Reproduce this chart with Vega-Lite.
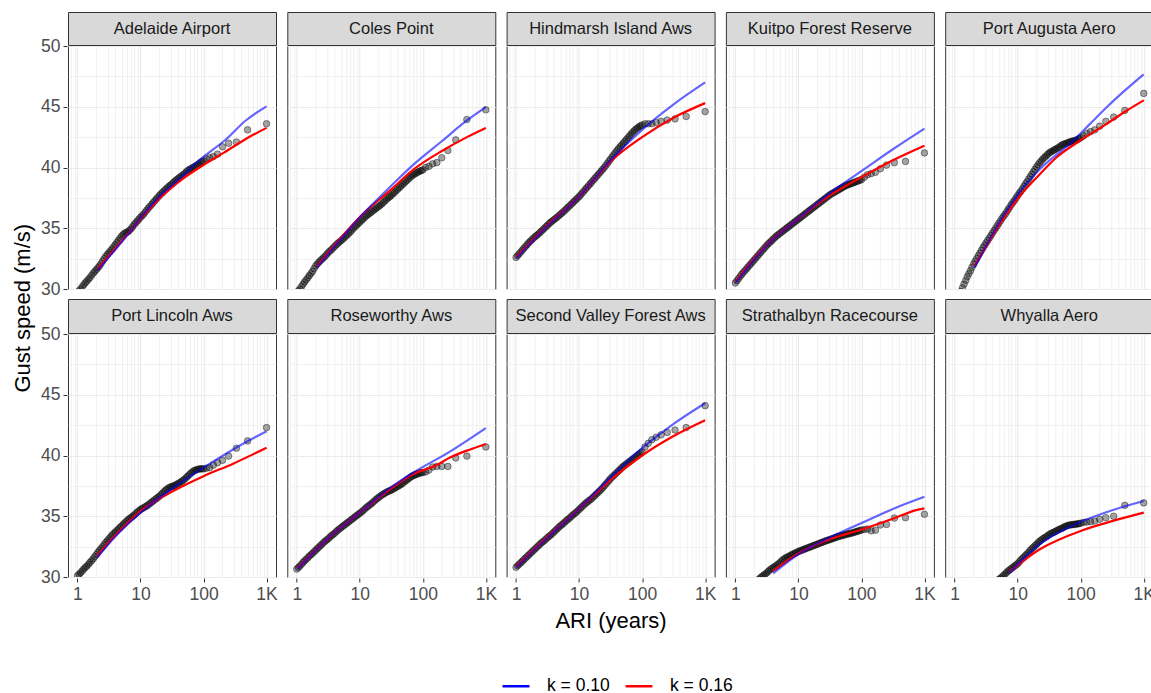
{
"$schema": "https://vega.github.io/schema/vega-lite/v6.json",
"padding": {"left": 11, "top": 11, "right": 0, "bottom": 0},
"background": "white",
"spacing": 0,
"title": {"text": "Gust speed (m/s)", "orient": "left", "anchor": "middle", "fontSize": 22, "fontWeight": "normal", "color": "#000000", "font": "Liberation Sans", "offset": 6, "dx": 45},
"config": {
  "font": "Liberation Sans",
  "view": {"stroke": "#333333", "strokeWidth": 1},
  "axis": {"domain": false, "gridColor": "#ebebeb", "tickColor": "#333333", "tickSize": 4, "labelColor": "#4d4d4d", "labelFontSize": 17.5, "labelPadding": 3, "titleFontSize": 22, "titleFontWeight": "normal", "titleColor": "#000000", "labelFont": "Liberation Sans", "titleFont": "Liberation Sans"}
},
"datasets": {
"st": [{"s":1,"name":"Adelaide Airport"},{"s":2,"name":"Coles Point"},{"s":3,"name":"Hindmarsh Island Aws"},{"s":4,"name":"Kuitpo Forest Reserve"},{"s":5,"name":"Port Augusta Aero"},{"s":6,"name":"Port Lincoln Aws"},{"s":7,"name":"Roseworthy Aws"},{"s":8,"name":"Second Valley Forest Aws"},{"s":9,"name":"Strathalbyn Racecourse"},{"s":10,"name":"Whyalla Aero"}],
"d": [
{"s":1,"a":1,"v":29.7},{"s":1,"a":1.12,"v":30.0},{"s":1,"a":1.26,"v":30.35},{"s":1,"a":1.41,"v":30.65},{"s":1,"a":1.58,"v":30.95},{"s":1,"a":1.78,"v":31.3},{"s":1,"a":2,"v":31.6},{"s":1,"a":2.24,"v":31.9},{"s":1,"a":2.51,"v":32.3},{"s":1,"a":2.82,"v":32.7},{"s":1,"a":3.16,"v":33.0},{"s":1,"a":3.55,"v":33.3},{"s":1,"a":3.98,"v":33.65},{"s":1,"a":4.47,"v":34.0},{"s":1,"a":5.01,"v":34.35},{"s":1,"a":5.62,"v":34.6},{"s":1,"a":6.31,"v":34.7},{"s":1,"a":7.08,"v":34.95},{"s":1,"a":7.94,"v":35.3},{"s":1,"a":8.91,"v":35.6},{"s":1,"a":10,"v":35.9},{"s":1,"a":11.2,"v":36.15},{"s":1,"a":12.6,"v":36.5},{"s":1,"a":14.1,"v":36.8},{"s":1,"a":15.8,"v":37.1},{"s":1,"a":17.8,"v":37.4},{"s":1,"a":20,"v":37.7},{"s":1,"a":22.4,"v":37.95},{"s":1,"a":25.1,"v":38.2},{"s":1,"a":28.2,"v":38.45},{"s":1,"a":31.6,"v":38.65},{"s":1,"a":35.5,"v":38.9},{"s":1,"a":39.8,"v":39.1},{"s":1,"a":44.7,"v":39.3},{"s":1,"a":50.1,"v":39.5},{"s":1,"a":56.2,"v":39.75},{"s":1,"a":63.1,"v":39.9},{"s":1,"a":70.8,"v":40.05},{"s":1,"a":79.4,"v":40.2},{"s":1,"a":89.1,"v":40.4},{"s":1,"a":100,"v":40.55},
{"s":1,"a":1.06,"v":29.85},{"s":1,"a":1.19,"v":30.18},{"s":1,"a":1.33,"v":30.5},{"s":1,"a":1.5,"v":30.8},{"s":1,"a":1.68,"v":31.13},{"s":1,"a":1.88,"v":31.45},{"s":1,"a":2.11,"v":31.75},{"s":1,"a":2.37,"v":32.1},{"s":1,"a":2.66,"v":32.5},{"s":1,"a":2.99,"v":32.85},{"s":1,"a":3.35,"v":33.15},{"s":1,"a":3.76,"v":33.48},{"s":1,"a":4.22,"v":33.83},{"s":1,"a":4.73,"v":34.18},{"s":1,"a":5.31,"v":34.48},{"s":1,"a":5.96,"v":34.65},{"s":1,"a":6.68,"v":34.83},{"s":1,"a":7.5,"v":35.13},{"s":1,"a":8.41,"v":35.45},{"s":1,"a":9.44,"v":35.75},{"s":1,"a":10.6,"v":36.03},{"s":1,"a":11.9,"v":36.33},{"s":1,"a":13.3,"v":36.65},{"s":1,"a":15,"v":36.95},{"s":1,"a":16.8,"v":37.25},{"s":1,"a":18.8,"v":37.55},{"s":1,"a":21.1,"v":37.83},{"s":1,"a":23.7,"v":38.08},{"s":1,"a":26.6,"v":38.33},{"s":1,"a":29.9,"v":38.55},{"s":1,"a":33.5,"v":38.78},{"s":1,"a":37.6,"v":39.0},{"s":1,"a":42.2,"v":39.2},{"s":1,"a":47.3,"v":39.4},{"s":1,"a":53.1,"v":39.63},{"s":1,"a":59.6,"v":39.83},{"s":1,"a":66.8,"v":39.98},{"s":1,"a":75,"v":40.13},{"s":1,"a":84.1,"v":40.3},{"s":1,"a":94.4,"v":40.48},
{"s":1,"a":111,"v":40.7},{"s":1,"a":125,"v":40.8},{"s":1,"a":143,"v":40.9},{"s":1,"a":167,"v":41.1},{"s":1,"a":200,"v":41.7},{"s":1,"a":250,"v":42.0},{"s":1,"a":333,"v":42.1},{"s":1,"a":500,"v":43.1},{"s":1,"a":1000,"v":43.6},
{"s":2,"a":1,"v":29.7},{"s":2,"a":1.12,"v":30.0},{"s":2,"a":1.26,"v":30.4},{"s":2,"a":1.41,"v":30.75},{"s":2,"a":1.58,"v":31.1},{"s":2,"a":1.78,"v":31.45},{"s":2,"a":2,"v":31.9},{"s":2,"a":2.24,"v":32.2},{"s":2,"a":2.51,"v":32.45},{"s":2,"a":2.82,"v":32.7},{"s":2,"a":3.16,"v":33.0},{"s":2,"a":3.55,"v":33.23},{"s":2,"a":3.98,"v":33.5},{"s":2,"a":4.47,"v":33.75},{"s":2,"a":5.01,"v":33.97},{"s":2,"a":5.62,"v":34.2},{"s":2,"a":6.31,"v":34.45},{"s":2,"a":7.08,"v":34.7},{"s":2,"a":7.94,"v":35.0},{"s":2,"a":8.91,"v":35.25},{"s":2,"a":10,"v":35.5},{"s":2,"a":11.2,"v":35.75},{"s":2,"a":12.6,"v":36.0},{"s":2,"a":14.1,"v":36.2},{"s":2,"a":15.8,"v":36.4},{"s":2,"a":17.8,"v":36.6},{"s":2,"a":20,"v":36.8},{"s":2,"a":22.4,"v":37.0},{"s":2,"a":25.1,"v":37.25},{"s":2,"a":28.2,"v":37.5},{"s":2,"a":31.6,"v":37.7},{"s":2,"a":35.5,"v":37.95},{"s":2,"a":39.8,"v":38.2},{"s":2,"a":44.7,"v":38.45},{"s":2,"a":50.1,"v":38.7},{"s":2,"a":56.2,"v":38.95},{"s":2,"a":63.1,"v":39.2},{"s":2,"a":70.8,"v":39.4},{"s":2,"a":79.4,"v":39.55},{"s":2,"a":89.1,"v":39.7},{"s":2,"a":100,"v":39.8},
{"s":2,"a":1.06,"v":29.85},{"s":2,"a":1.19,"v":30.2},{"s":2,"a":1.33,"v":30.58},{"s":2,"a":1.5,"v":30.93},{"s":2,"a":1.68,"v":31.28},{"s":2,"a":1.88,"v":31.68},{"s":2,"a":2.11,"v":32.05},{"s":2,"a":2.37,"v":32.33},{"s":2,"a":2.66,"v":32.58},{"s":2,"a":2.99,"v":32.85},{"s":2,"a":3.35,"v":33.12},{"s":2,"a":3.76,"v":33.37},{"s":2,"a":4.22,"v":33.63},{"s":2,"a":4.73,"v":33.86},{"s":2,"a":5.31,"v":34.08},{"s":2,"a":5.96,"v":34.33},{"s":2,"a":6.68,"v":34.58},{"s":2,"a":7.5,"v":34.85},{"s":2,"a":8.41,"v":35.13},{"s":2,"a":9.44,"v":35.38},{"s":2,"a":10.6,"v":35.63},{"s":2,"a":11.9,"v":35.88},{"s":2,"a":13.3,"v":36.1},{"s":2,"a":15,"v":36.3},{"s":2,"a":16.8,"v":36.5},{"s":2,"a":18.8,"v":36.7},{"s":2,"a":21.1,"v":36.9},{"s":2,"a":23.7,"v":37.13},{"s":2,"a":26.6,"v":37.38},{"s":2,"a":29.9,"v":37.6},{"s":2,"a":33.5,"v":37.83},{"s":2,"a":37.6,"v":38.08},{"s":2,"a":42.2,"v":38.33},{"s":2,"a":47.3,"v":38.58},{"s":2,"a":53.1,"v":38.83},{"s":2,"a":59.6,"v":39.08},{"s":2,"a":66.8,"v":39.3},{"s":2,"a":75,"v":39.48},{"s":2,"a":84.1,"v":39.63},{"s":2,"a":94.4,"v":39.75},
{"s":2,"a":111,"v":40.0},{"s":2,"a":125,"v":40.1},{"s":2,"a":143,"v":40.3},{"s":2,"a":167,"v":40.4},{"s":2,"a":200,"v":40.8},{"s":2,"a":250,"v":41.4},{"s":2,"a":333,"v":42.27},{"s":2,"a":500,"v":43.95},{"s":2,"a":1000,"v":44.75},
{"s":3,"a":1,"v":32.6},{"s":3,"a":1.12,"v":32.9},{"s":3,"a":1.26,"v":33.2},{"s":3,"a":1.41,"v":33.5},{"s":3,"a":1.58,"v":33.8},{"s":3,"a":1.78,"v":34.05},{"s":3,"a":2,"v":34.3},{"s":3,"a":2.24,"v":34.5},{"s":3,"a":2.51,"v":34.75},{"s":3,"a":2.82,"v":35.0},{"s":3,"a":3.16,"v":35.25},{"s":3,"a":3.55,"v":35.5},{"s":3,"a":3.98,"v":35.7},{"s":3,"a":4.47,"v":35.9},{"s":3,"a":5.01,"v":36.13},{"s":3,"a":5.62,"v":36.35},{"s":3,"a":6.31,"v":36.6},{"s":3,"a":7.08,"v":36.85},{"s":3,"a":7.94,"v":37.1},{"s":3,"a":8.91,"v":37.35},{"s":3,"a":10,"v":37.6},{"s":3,"a":11.2,"v":37.9},{"s":3,"a":12.6,"v":38.2},{"s":3,"a":14.1,"v":38.5},{"s":3,"a":15.8,"v":38.8},{"s":3,"a":17.8,"v":39.1},{"s":3,"a":20,"v":39.4},{"s":3,"a":22.4,"v":39.7},{"s":3,"a":25.1,"v":40.0},{"s":3,"a":28.2,"v":40.35},{"s":3,"a":31.6,"v":40.7},{"s":3,"a":35.5,"v":41.05},{"s":3,"a":39.8,"v":41.4},{"s":3,"a":44.7,"v":41.7},{"s":3,"a":50.1,"v":42.0},{"s":3,"a":56.2,"v":42.3},{"s":3,"a":63.1,"v":42.6},{"s":3,"a":70.8,"v":42.9},{"s":3,"a":79.4,"v":43.15},{"s":3,"a":89.1,"v":43.35},{"s":3,"a":100,"v":43.5},
{"s":3,"a":1.06,"v":32.75},{"s":3,"a":1.19,"v":33.05},{"s":3,"a":1.33,"v":33.35},{"s":3,"a":1.5,"v":33.65},{"s":3,"a":1.68,"v":33.93},{"s":3,"a":1.88,"v":34.18},{"s":3,"a":2.11,"v":34.4},{"s":3,"a":2.37,"v":34.63},{"s":3,"a":2.66,"v":34.88},{"s":3,"a":2.99,"v":35.13},{"s":3,"a":3.35,"v":35.38},{"s":3,"a":3.76,"v":35.6},{"s":3,"a":4.22,"v":35.8},{"s":3,"a":4.73,"v":36.02},{"s":3,"a":5.31,"v":36.24},{"s":3,"a":5.96,"v":36.48},{"s":3,"a":6.68,"v":36.73},{"s":3,"a":7.5,"v":36.98},{"s":3,"a":8.41,"v":37.23},{"s":3,"a":9.44,"v":37.48},{"s":3,"a":10.6,"v":37.75},{"s":3,"a":11.9,"v":38.05},{"s":3,"a":13.3,"v":38.35},{"s":3,"a":15,"v":38.65},{"s":3,"a":16.8,"v":38.95},{"s":3,"a":18.8,"v":39.25},{"s":3,"a":21.1,"v":39.55},{"s":3,"a":23.7,"v":39.85},{"s":3,"a":26.6,"v":40.18},{"s":3,"a":29.9,"v":40.53},{"s":3,"a":33.5,"v":40.88},{"s":3,"a":37.6,"v":41.23},{"s":3,"a":42.2,"v":41.55},{"s":3,"a":47.3,"v":41.85},{"s":3,"a":53.1,"v":42.15},{"s":3,"a":59.6,"v":42.45},{"s":3,"a":66.8,"v":42.75},{"s":3,"a":75,"v":43.03},{"s":3,"a":84.1,"v":43.25},{"s":3,"a":94.4,"v":43.43},
{"s":3,"a":111,"v":43.6},{"s":3,"a":125,"v":43.6},{"s":3,"a":143,"v":43.6},{"s":3,"a":167,"v":43.7},{"s":3,"a":200,"v":43.8},{"s":3,"a":250,"v":43.9},{"s":3,"a":333,"v":44.0},{"s":3,"a":500,"v":44.2},{"s":3,"a":1000,"v":44.6},
{"s":4,"a":1,"v":30.5},{"s":4,"a":1.12,"v":30.85},{"s":4,"a":1.26,"v":31.2},{"s":4,"a":1.41,"v":31.5},{"s":4,"a":1.58,"v":31.8},{"s":4,"a":1.78,"v":32.1},{"s":4,"a":2,"v":32.4},{"s":4,"a":2.24,"v":32.7},{"s":4,"a":2.51,"v":33.0},{"s":4,"a":2.82,"v":33.3},{"s":4,"a":3.16,"v":33.6},{"s":4,"a":3.55,"v":33.85},{"s":4,"a":3.98,"v":34.1},{"s":4,"a":4.47,"v":34.35},{"s":4,"a":5.01,"v":34.55},{"s":4,"a":5.62,"v":34.75},{"s":4,"a":6.31,"v":34.95},{"s":4,"a":7.08,"v":35.15},{"s":4,"a":7.94,"v":35.35},{"s":4,"a":8.91,"v":35.55},{"s":4,"a":10,"v":35.75},{"s":4,"a":11.2,"v":35.95},{"s":4,"a":12.6,"v":36.15},{"s":4,"a":14.1,"v":36.35},{"s":4,"a":15.8,"v":36.55},{"s":4,"a":17.8,"v":36.75},{"s":4,"a":20,"v":36.95},{"s":4,"a":22.4,"v":37.15},{"s":4,"a":25.1,"v":37.35},{"s":4,"a":28.2,"v":37.55},{"s":4,"a":31.6,"v":37.75},{"s":4,"a":35.5,"v":37.9},{"s":4,"a":39.8,"v":38.05},{"s":4,"a":44.7,"v":38.2},{"s":4,"a":50.1,"v":38.35},{"s":4,"a":56.2,"v":38.5},{"s":4,"a":63.1,"v":38.6},{"s":4,"a":70.8,"v":38.7},{"s":4,"a":79.4,"v":38.8},{"s":4,"a":89.1,"v":38.9},{"s":4,"a":100,"v":39.0},
{"s":4,"a":1.06,"v":30.68},{"s":4,"a":1.19,"v":31.03},{"s":4,"a":1.33,"v":31.35},{"s":4,"a":1.5,"v":31.65},{"s":4,"a":1.68,"v":31.95},{"s":4,"a":1.88,"v":32.25},{"s":4,"a":2.11,"v":32.55},{"s":4,"a":2.37,"v":32.85},{"s":4,"a":2.66,"v":33.15},{"s":4,"a":2.99,"v":33.45},{"s":4,"a":3.35,"v":33.73},{"s":4,"a":3.76,"v":33.98},{"s":4,"a":4.22,"v":34.23},{"s":4,"a":4.73,"v":34.45},{"s":4,"a":5.31,"v":34.65},{"s":4,"a":5.96,"v":34.85},{"s":4,"a":6.68,"v":35.05},{"s":4,"a":7.5,"v":35.25},{"s":4,"a":8.41,"v":35.45},{"s":4,"a":9.44,"v":35.65},{"s":4,"a":10.6,"v":35.85},{"s":4,"a":11.9,"v":36.05},{"s":4,"a":13.3,"v":36.25},{"s":4,"a":15,"v":36.45},{"s":4,"a":16.8,"v":36.65},{"s":4,"a":18.8,"v":36.85},{"s":4,"a":21.1,"v":37.05},{"s":4,"a":23.7,"v":37.25},{"s":4,"a":26.6,"v":37.45},{"s":4,"a":29.9,"v":37.65},{"s":4,"a":33.5,"v":37.83},{"s":4,"a":37.6,"v":37.98},{"s":4,"a":42.2,"v":38.13},{"s":4,"a":47.3,"v":38.28},{"s":4,"a":53.1,"v":38.43},{"s":4,"a":59.6,"v":38.55},{"s":4,"a":66.8,"v":38.65},{"s":4,"a":75,"v":38.75},{"s":4,"a":84.1,"v":38.85},{"s":4,"a":94.4,"v":38.95},
{"s":4,"a":111,"v":39.2},{"s":4,"a":125,"v":39.4},{"s":4,"a":143,"v":39.5},{"s":4,"a":167,"v":39.6},{"s":4,"a":200,"v":39.9},{"s":4,"a":250,"v":40.2},{"s":4,"a":333,"v":40.4},{"s":4,"a":500,"v":40.5},{"s":4,"a":1000,"v":41.2},
{"s":5,"a":1,"v":29.0},{"s":5,"a":1.12,"v":29.4},{"s":5,"a":1.26,"v":29.8},{"s":5,"a":1.41,"v":30.4},{"s":5,"a":1.58,"v":31.0},{"s":5,"a":1.78,"v":31.5},{"s":5,"a":2,"v":32.05},{"s":5,"a":2.24,"v":32.5},{"s":5,"a":2.51,"v":32.95},{"s":5,"a":2.82,"v":33.4},{"s":5,"a":3.16,"v":33.8},{"s":5,"a":3.55,"v":34.2},{"s":5,"a":3.98,"v":34.6},{"s":5,"a":4.47,"v":35.0},{"s":5,"a":5.01,"v":35.4},{"s":5,"a":5.62,"v":35.8},{"s":5,"a":6.31,"v":36.15},{"s":5,"a":7.08,"v":36.55},{"s":5,"a":7.94,"v":36.95},{"s":5,"a":8.91,"v":37.3},{"s":5,"a":10,"v":37.7},{"s":5,"a":11.2,"v":38.05},{"s":5,"a":12.6,"v":38.45},{"s":5,"a":14.1,"v":38.85},{"s":5,"a":15.8,"v":39.25},{"s":5,"a":17.8,"v":39.65},{"s":5,"a":20,"v":40.05},{"s":5,"a":22.4,"v":40.4},{"s":5,"a":25.1,"v":40.7},{"s":5,"a":28.2,"v":40.95},{"s":5,"a":31.6,"v":41.2},{"s":5,"a":35.5,"v":41.35},{"s":5,"a":39.8,"v":41.5},{"s":5,"a":44.7,"v":41.65},{"s":5,"a":50.1,"v":41.85},{"s":5,"a":56.2,"v":41.95},{"s":5,"a":63.1,"v":42.05},{"s":5,"a":70.8,"v":42.15},{"s":5,"a":79.4,"v":42.2},{"s":5,"a":89.1,"v":42.3},{"s":5,"a":100,"v":42.45},
{"s":5,"a":1.06,"v":29.2},{"s":5,"a":1.19,"v":29.6},{"s":5,"a":1.33,"v":30.1},{"s":5,"a":1.5,"v":30.7},{"s":5,"a":1.68,"v":31.25},{"s":5,"a":1.88,"v":31.78},{"s":5,"a":2.11,"v":32.28},{"s":5,"a":2.37,"v":32.73},{"s":5,"a":2.66,"v":33.18},{"s":5,"a":2.99,"v":33.6},{"s":5,"a":3.35,"v":34.0},{"s":5,"a":3.76,"v":34.4},{"s":5,"a":4.22,"v":34.8},{"s":5,"a":4.73,"v":35.2},{"s":5,"a":5.31,"v":35.6},{"s":5,"a":5.96,"v":35.98},{"s":5,"a":6.68,"v":36.35},{"s":5,"a":7.5,"v":36.75},{"s":5,"a":8.41,"v":37.13},{"s":5,"a":9.44,"v":37.5},{"s":5,"a":10.6,"v":37.88},{"s":5,"a":11.9,"v":38.25},{"s":5,"a":13.3,"v":38.65},{"s":5,"a":15,"v":39.05},{"s":5,"a":16.8,"v":39.45},{"s":5,"a":18.8,"v":39.85},{"s":5,"a":21.1,"v":40.23},{"s":5,"a":23.7,"v":40.55},{"s":5,"a":26.6,"v":40.83},{"s":5,"a":29.9,"v":41.08},{"s":5,"a":33.5,"v":41.28},{"s":5,"a":37.6,"v":41.43},{"s":5,"a":42.2,"v":41.58},{"s":5,"a":47.3,"v":41.75},{"s":5,"a":53.1,"v":41.9},{"s":5,"a":59.6,"v":42.0},{"s":5,"a":66.8,"v":42.1},{"s":5,"a":75,"v":42.18},{"s":5,"a":84.1,"v":42.25},{"s":5,"a":94.4,"v":42.38},
{"s":5,"a":111,"v":42.6},{"s":5,"a":125,"v":42.8},{"s":5,"a":143,"v":42.95},{"s":5,"a":167,"v":43.1},{"s":5,"a":200,"v":43.4},{"s":5,"a":250,"v":43.8},{"s":5,"a":333,"v":44.15},{"s":5,"a":500,"v":44.7},{"s":5,"a":1000,"v":46.1},
{"s":6,"a":1,"v":30.1},{"s":6,"a":1.12,"v":30.35},{"s":6,"a":1.26,"v":30.65},{"s":6,"a":1.41,"v":30.9},{"s":6,"a":1.58,"v":31.2},{"s":6,"a":1.78,"v":31.5},{"s":6,"a":2,"v":31.85},{"s":6,"a":2.24,"v":32.2},{"s":6,"a":2.51,"v":32.5},{"s":6,"a":2.82,"v":32.85},{"s":6,"a":3.16,"v":33.15},{"s":6,"a":3.55,"v":33.45},{"s":6,"a":3.98,"v":33.7},{"s":6,"a":4.47,"v":33.95},{"s":6,"a":5.01,"v":34.2},{"s":6,"a":5.62,"v":34.45},{"s":6,"a":6.31,"v":34.7},{"s":6,"a":7.08,"v":34.9},{"s":6,"a":7.94,"v":35.1},{"s":6,"a":8.91,"v":35.35},{"s":6,"a":10,"v":35.55},{"s":6,"a":11.2,"v":35.7},{"s":6,"a":12.6,"v":35.85},{"s":6,"a":14.1,"v":36.05},{"s":6,"a":15.8,"v":36.25},{"s":6,"a":17.8,"v":36.45},{"s":6,"a":20,"v":36.65},{"s":6,"a":22.4,"v":36.9},{"s":6,"a":25.1,"v":37.15},{"s":6,"a":28.2,"v":37.35},{"s":6,"a":31.6,"v":37.45},{"s":6,"a":35.5,"v":37.55},{"s":6,"a":39.8,"v":37.7},{"s":6,"a":44.7,"v":37.85},{"s":6,"a":50.1,"v":38.05},{"s":6,"a":56.2,"v":38.3},{"s":6,"a":63.1,"v":38.55},{"s":6,"a":70.8,"v":38.75},{"s":6,"a":79.4,"v":38.85},{"s":6,"a":89.1,"v":38.9},{"s":6,"a":100,"v":38.9},
{"s":6,"a":1.06,"v":30.23},{"s":6,"a":1.19,"v":30.5},{"s":6,"a":1.33,"v":30.78},{"s":6,"a":1.5,"v":31.05},{"s":6,"a":1.68,"v":31.35},{"s":6,"a":1.88,"v":31.68},{"s":6,"a":2.11,"v":32.03},{"s":6,"a":2.37,"v":32.35},{"s":6,"a":2.66,"v":32.68},{"s":6,"a":2.99,"v":33.0},{"s":6,"a":3.35,"v":33.3},{"s":6,"a":3.76,"v":33.58},{"s":6,"a":4.22,"v":33.83},{"s":6,"a":4.73,"v":34.08},{"s":6,"a":5.31,"v":34.33},{"s":6,"a":5.96,"v":34.58},{"s":6,"a":6.68,"v":34.8},{"s":6,"a":7.5,"v":35.0},{"s":6,"a":8.41,"v":35.23},{"s":6,"a":9.44,"v":35.45},{"s":6,"a":10.6,"v":35.63},{"s":6,"a":11.9,"v":35.78},{"s":6,"a":13.3,"v":35.95},{"s":6,"a":15,"v":36.15},{"s":6,"a":16.8,"v":36.35},{"s":6,"a":18.8,"v":36.55},{"s":6,"a":21.1,"v":36.78},{"s":6,"a":23.7,"v":37.03},{"s":6,"a":26.6,"v":37.25},{"s":6,"a":29.9,"v":37.4},{"s":6,"a":33.5,"v":37.5},{"s":6,"a":37.6,"v":37.63},{"s":6,"a":42.2,"v":37.78},{"s":6,"a":47.3,"v":37.95},{"s":6,"a":53.1,"v":38.18},{"s":6,"a":59.6,"v":38.43},{"s":6,"a":66.8,"v":38.65},{"s":6,"a":75,"v":38.8},{"s":6,"a":84.1,"v":38.88},{"s":6,"a":94.4,"v":38.9},
{"s":6,"a":111,"v":38.95},{"s":6,"a":125,"v":39.0},{"s":6,"a":143,"v":39.2},{"s":6,"a":167,"v":39.4},{"s":6,"a":200,"v":39.6},{"s":6,"a":250,"v":39.95},{"s":6,"a":333,"v":40.6},{"s":6,"a":500,"v":41.2},{"s":6,"a":1000,"v":42.3},
{"s":7,"a":1,"v":30.65},{"s":7,"a":1.12,"v":30.9},{"s":7,"a":1.26,"v":31.2},{"s":7,"a":1.41,"v":31.45},{"s":7,"a":1.58,"v":31.72},{"s":7,"a":1.78,"v":31.95},{"s":7,"a":2,"v":32.2},{"s":7,"a":2.24,"v":32.45},{"s":7,"a":2.51,"v":32.7},{"s":7,"a":2.82,"v":32.95},{"s":7,"a":3.16,"v":33.15},{"s":7,"a":3.55,"v":33.4},{"s":7,"a":3.98,"v":33.6},{"s":7,"a":4.47,"v":33.85},{"s":7,"a":5.01,"v":34.05},{"s":7,"a":5.62,"v":34.25},{"s":7,"a":6.31,"v":34.45},{"s":7,"a":7.08,"v":34.65},{"s":7,"a":7.94,"v":34.85},{"s":7,"a":8.91,"v":35.05},{"s":7,"a":10,"v":35.25},{"s":7,"a":11.2,"v":35.45},{"s":7,"a":12.6,"v":35.7},{"s":7,"a":14.1,"v":35.9},{"s":7,"a":15.8,"v":36.1},{"s":7,"a":17.8,"v":36.35},{"s":7,"a":20,"v":36.55},{"s":7,"a":22.4,"v":36.75},{"s":7,"a":25.1,"v":36.9},{"s":7,"a":28.2,"v":37.05},{"s":7,"a":31.6,"v":37.15},{"s":7,"a":35.5,"v":37.3},{"s":7,"a":39.8,"v":37.45},{"s":7,"a":44.7,"v":37.6},{"s":7,"a":50.1,"v":37.8},{"s":7,"a":56.2,"v":38.0},{"s":7,"a":63.1,"v":38.2},{"s":7,"a":70.8,"v":38.35},{"s":7,"a":79.4,"v":38.45},{"s":7,"a":89.1,"v":38.55},{"s":7,"a":100,"v":38.6},
{"s":7,"a":1.06,"v":30.78},{"s":7,"a":1.19,"v":31.05},{"s":7,"a":1.33,"v":31.33},{"s":7,"a":1.5,"v":31.58},{"s":7,"a":1.68,"v":31.83},{"s":7,"a":1.88,"v":32.08},{"s":7,"a":2.11,"v":32.33},{"s":7,"a":2.37,"v":32.58},{"s":7,"a":2.66,"v":32.83},{"s":7,"a":2.99,"v":33.05},{"s":7,"a":3.35,"v":33.28},{"s":7,"a":3.76,"v":33.5},{"s":7,"a":4.22,"v":33.73},{"s":7,"a":4.73,"v":33.95},{"s":7,"a":5.31,"v":34.15},{"s":7,"a":5.96,"v":34.35},{"s":7,"a":6.68,"v":34.55},{"s":7,"a":7.5,"v":34.75},{"s":7,"a":8.41,"v":34.95},{"s":7,"a":9.44,"v":35.15},{"s":7,"a":10.6,"v":35.35},{"s":7,"a":11.9,"v":35.58},{"s":7,"a":13.3,"v":35.8},{"s":7,"a":15,"v":36.0},{"s":7,"a":16.8,"v":36.23},{"s":7,"a":18.8,"v":36.45},{"s":7,"a":21.1,"v":36.65},{"s":7,"a":23.7,"v":36.83},{"s":7,"a":26.6,"v":36.98},{"s":7,"a":29.9,"v":37.1},{"s":7,"a":33.5,"v":37.23},{"s":7,"a":37.6,"v":37.38},{"s":7,"a":42.2,"v":37.53},{"s":7,"a":47.3,"v":37.7},{"s":7,"a":53.1,"v":37.9},{"s":7,"a":59.6,"v":38.1},{"s":7,"a":66.8,"v":38.28},{"s":7,"a":75,"v":38.4},{"s":7,"a":84.1,"v":38.5},{"s":7,"a":94.4,"v":38.58},
{"s":7,"a":111,"v":38.65},{"s":7,"a":125,"v":38.8},{"s":7,"a":143,"v":39.05},{"s":7,"a":167,"v":39.1},{"s":7,"a":200,"v":39.1},{"s":7,"a":250,"v":39.1},{"s":7,"a":333,"v":39.8},{"s":7,"a":500,"v":39.95},{"s":7,"a":1000,"v":40.7},
{"s":8,"a":1,"v":30.8},{"s":8,"a":1.12,"v":31.05},{"s":8,"a":1.26,"v":31.3},{"s":8,"a":1.41,"v":31.55},{"s":8,"a":1.58,"v":31.8},{"s":8,"a":1.78,"v":32.05},{"s":8,"a":2,"v":32.3},{"s":8,"a":2.24,"v":32.55},{"s":8,"a":2.51,"v":32.8},{"s":8,"a":2.82,"v":33.0},{"s":8,"a":3.16,"v":33.25},{"s":8,"a":3.55,"v":33.45},{"s":8,"a":3.98,"v":33.7},{"s":8,"a":4.47,"v":33.95},{"s":8,"a":5.01,"v":34.2},{"s":8,"a":5.62,"v":34.4},{"s":8,"a":6.31,"v":34.65},{"s":8,"a":7.08,"v":34.85},{"s":8,"a":7.94,"v":35.1},{"s":8,"a":8.91,"v":35.3},{"s":8,"a":10,"v":35.55},{"s":8,"a":11.2,"v":35.8},{"s":8,"a":12.6,"v":36.05},{"s":8,"a":14.1,"v":36.25},{"s":8,"a":15.8,"v":36.45},{"s":8,"a":17.8,"v":36.7},{"s":8,"a":20,"v":36.95},{"s":8,"a":22.4,"v":37.2},{"s":8,"a":25.1,"v":37.5},{"s":8,"a":28.2,"v":37.8},{"s":8,"a":31.6,"v":38.1},{"s":8,"a":35.5,"v":38.35},{"s":8,"a":39.8,"v":38.6},{"s":8,"a":44.7,"v":38.85},{"s":8,"a":50.1,"v":39.1},{"s":8,"a":56.2,"v":39.3},{"s":8,"a":63.1,"v":39.5},{"s":8,"a":70.8,"v":39.7},{"s":8,"a":79.4,"v":39.9},{"s":8,"a":89.1,"v":40.1},{"s":8,"a":100,"v":40.3},
{"s":8,"a":1.06,"v":30.93},{"s":8,"a":1.19,"v":31.18},{"s":8,"a":1.33,"v":31.43},{"s":8,"a":1.5,"v":31.68},{"s":8,"a":1.68,"v":31.93},{"s":8,"a":1.88,"v":32.18},{"s":8,"a":2.11,"v":32.43},{"s":8,"a":2.37,"v":32.68},{"s":8,"a":2.66,"v":32.9},{"s":8,"a":2.99,"v":33.13},{"s":8,"a":3.35,"v":33.35},{"s":8,"a":3.76,"v":33.58},{"s":8,"a":4.22,"v":33.83},{"s":8,"a":4.73,"v":34.08},{"s":8,"a":5.31,"v":34.3},{"s":8,"a":5.96,"v":34.53},{"s":8,"a":6.68,"v":34.75},{"s":8,"a":7.5,"v":34.98},{"s":8,"a":8.41,"v":35.2},{"s":8,"a":9.44,"v":35.43},{"s":8,"a":10.6,"v":35.68},{"s":8,"a":11.9,"v":35.93},{"s":8,"a":13.3,"v":36.15},{"s":8,"a":15,"v":36.35},{"s":8,"a":16.8,"v":36.58},{"s":8,"a":18.8,"v":36.83},{"s":8,"a":21.1,"v":37.08},{"s":8,"a":23.7,"v":37.35},{"s":8,"a":26.6,"v":37.65},{"s":8,"a":29.9,"v":37.95},{"s":8,"a":33.5,"v":38.23},{"s":8,"a":37.6,"v":38.48},{"s":8,"a":42.2,"v":38.73},{"s":8,"a":47.3,"v":38.98},{"s":8,"a":53.1,"v":39.2},{"s":8,"a":59.6,"v":39.4},{"s":8,"a":66.8,"v":39.6},{"s":8,"a":75,"v":39.8},{"s":8,"a":84.1,"v":40.0},{"s":8,"a":94.4,"v":40.2},
{"s":8,"a":111,"v":40.7},{"s":8,"a":125,"v":41.0},{"s":8,"a":143,"v":41.3},{"s":8,"a":167,"v":41.5},{"s":8,"a":200,"v":41.7},{"s":8,"a":250,"v":41.9},{"s":8,"a":333,"v":42.1},{"s":8,"a":500,"v":42.3},{"s":8,"a":1000,"v":44.1},
{"s":9,"a":2.24,"v":29.7},{"s":9,"a":2.51,"v":29.95},{"s":9,"a":2.82,"v":30.15},{"s":9,"a":3.16,"v":30.35},{"s":9,"a":3.55,"v":30.6},{"s":9,"a":3.98,"v":30.77},{"s":9,"a":4.47,"v":30.95},{"s":9,"a":5.01,"v":31.15},{"s":9,"a":5.62,"v":31.4},{"s":9,"a":6.31,"v":31.58},{"s":9,"a":7.08,"v":31.7},{"s":9,"a":7.94,"v":31.85},{"s":9,"a":8.91,"v":31.97},{"s":9,"a":10,"v":32.1},{"s":9,"a":11.2,"v":32.2},{"s":9,"a":12.6,"v":32.3},{"s":9,"a":14.1,"v":32.4},{"s":9,"a":15.8,"v":32.5},{"s":9,"a":17.8,"v":32.6},{"s":9,"a":20,"v":32.7},{"s":9,"a":22.4,"v":32.8},{"s":9,"a":25.1,"v":32.9},{"s":9,"a":28.2,"v":33.0},{"s":9,"a":31.6,"v":33.08},{"s":9,"a":35.5,"v":33.17},{"s":9,"a":39.8,"v":33.27},{"s":9,"a":44.7,"v":33.35},{"s":9,"a":50.1,"v":33.42},{"s":9,"a":56.2,"v":33.5},{"s":9,"a":63.1,"v":33.55},{"s":9,"a":70.8,"v":33.62},{"s":9,"a":79.4,"v":33.7},{"s":9,"a":89.1,"v":33.78},{"s":9,"a":100,"v":33.87},
{"s":9,"a":2.37,"v":29.83},{"s":9,"a":2.66,"v":30.05},{"s":9,"a":2.99,"v":30.25},{"s":9,"a":3.35,"v":30.48},{"s":9,"a":3.76,"v":30.69},{"s":9,"a":4.22,"v":30.86},{"s":9,"a":4.73,"v":31.05},{"s":9,"a":5.31,"v":31.28},{"s":9,"a":5.96,"v":31.49},{"s":9,"a":6.68,"v":31.64},{"s":9,"a":7.5,"v":31.78},{"s":9,"a":8.41,"v":31.91},{"s":9,"a":9.44,"v":32.04},{"s":9,"a":10.6,"v":32.15},{"s":9,"a":11.9,"v":32.25},{"s":9,"a":13.3,"v":32.35},{"s":9,"a":15,"v":32.45},{"s":9,"a":16.8,"v":32.55},{"s":9,"a":18.8,"v":32.65},{"s":9,"a":21.1,"v":32.75},{"s":9,"a":23.7,"v":32.85},{"s":9,"a":26.6,"v":32.95},{"s":9,"a":29.9,"v":33.04},{"s":9,"a":33.5,"v":33.13},{"s":9,"a":37.6,"v":33.22},{"s":9,"a":42.2,"v":33.31},{"s":9,"a":47.3,"v":33.39},{"s":9,"a":53.1,"v":33.46},{"s":9,"a":59.6,"v":33.53},{"s":9,"a":66.8,"v":33.59},{"s":9,"a":75,"v":33.66},{"s":9,"a":84.1,"v":33.74},{"s":9,"a":94.4,"v":33.83},
{"s":9,"a":111,"v":33.9},{"s":9,"a":125,"v":33.95},{"s":9,"a":143,"v":33.8},{"s":9,"a":167,"v":33.85},{"s":9,"a":200,"v":34.28},{"s":9,"a":250,"v":34.33},{"s":9,"a":333,"v":34.85},{"s":9,"a":500,"v":34.88},{"s":9,"a":1000,"v":35.16},
{"s":10,"a":5.01,"v":29.8},{"s":10,"a":5.62,"v":30.0},{"s":10,"a":6.31,"v":30.25},{"s":10,"a":7.08,"v":30.5},{"s":10,"a":7.94,"v":30.7},{"s":10,"a":8.91,"v":30.9},{"s":10,"a":10,"v":31.1},{"s":10,"a":11.2,"v":31.4},{"s":10,"a":12.6,"v":31.65},{"s":10,"a":14.1,"v":31.9},{"s":10,"a":15.8,"v":32.2},{"s":10,"a":17.8,"v":32.45},{"s":10,"a":20,"v":32.7},{"s":10,"a":22.4,"v":32.95},{"s":10,"a":25.1,"v":33.15},{"s":10,"a":28.2,"v":33.3},{"s":10,"a":31.6,"v":33.5},{"s":10,"a":35.5,"v":33.63},{"s":10,"a":39.8,"v":33.75},{"s":10,"a":44.7,"v":33.9},{"s":10,"a":50.1,"v":34.0},{"s":10,"a":56.2,"v":34.15},{"s":10,"a":63.1,"v":34.25},{"s":10,"a":70.8,"v":34.3},{"s":10,"a":79.4,"v":34.33},{"s":10,"a":89.1,"v":34.37},{"s":10,"a":100,"v":34.42},
{"s":10,"a":5.31,"v":29.9},{"s":10,"a":5.96,"v":30.13},{"s":10,"a":6.68,"v":30.38},{"s":10,"a":7.5,"v":30.6},{"s":10,"a":8.41,"v":30.8},{"s":10,"a":9.44,"v":31.0},{"s":10,"a":10.6,"v":31.25},{"s":10,"a":11.9,"v":31.53},{"s":10,"a":13.3,"v":31.78},{"s":10,"a":15,"v":32.05},{"s":10,"a":16.8,"v":32.33},{"s":10,"a":18.8,"v":32.58},{"s":10,"a":21.1,"v":32.83},{"s":10,"a":23.7,"v":33.05},{"s":10,"a":26.6,"v":33.23},{"s":10,"a":29.9,"v":33.4},{"s":10,"a":33.5,"v":33.57},{"s":10,"a":37.6,"v":33.69},{"s":10,"a":42.2,"v":33.83},{"s":10,"a":47.3,"v":33.95},{"s":10,"a":53.1,"v":34.08},{"s":10,"a":59.6,"v":34.2},{"s":10,"a":66.8,"v":34.28},{"s":10,"a":75,"v":34.32},{"s":10,"a":84.1,"v":34.35},{"s":10,"a":94.4,"v":34.4},
{"s":10,"a":111,"v":34.5},{"s":10,"a":125,"v":34.52},{"s":10,"a":143,"v":34.55},{"s":10,"a":167,"v":34.6},{"s":10,"a":200,"v":34.75},{"s":10,"a":250,"v":34.88},{"s":10,"a":333,"v":35.0},{"s":10,"a":500,"v":35.9},{"s":10,"a":1000,"v":36.1},
{"s":1,"k":"k = 0.10","a":2.09,"v":31.55},{"s":1,"k":"k = 0.10","a":5.56,"v":34.14},{"s":1,"k":"k = 0.10","a":10.7,"v":36.0},{"s":1,"k":"k = 0.10","a":20.4,"v":37.65},{"s":1,"k":"k = 0.10","a":38.9,"v":38.95},{"s":1,"k":"k = 0.10","a":105,"v":40.97},{"s":1,"k":"k = 0.10","a":214,"v":42.2},{"s":1,"k":"k = 0.10","a":468,"v":43.87},{"s":1,"k":"k = 0.10","a":1000,"v":45.03},
{"s":1,"k":"k = 0.16","a":2.09,"v":31.66},{"s":1,"k":"k = 0.16","a":5.56,"v":34.2},{"s":1,"k":"k = 0.16","a":10.7,"v":35.94},{"s":1,"k":"k = 0.16","a":20.4,"v":37.5},{"s":1,"k":"k = 0.16","a":38.9,"v":38.76},{"s":1,"k":"k = 0.16","a":105,"v":40.28},{"s":1,"k":"k = 0.16","a":214,"v":41.24},{"s":1,"k":"k = 0.16","a":468,"v":42.35},{"s":1,"k":"k = 0.16","a":1000,"v":43.26},
{"s":2,"k":"k = 0.10","a":2.09,"v":31.77},{"s":2,"k":"k = 0.10","a":11,"v":36.13},{"s":2,"k":"k = 0.10","a":31.6,"v":38.5},{"s":2,"k":"k = 0.10","a":72.4,"v":40.28},{"s":2,"k":"k = 0.10","a":204,"v":42.2},{"s":2,"k":"k = 0.10","a":501,"v":43.87},{"s":2,"k":"k = 0.10","a":1000,"v":44.97},
{"s":2,"k":"k = 0.16","a":2.09,"v":31.85},{"s":2,"k":"k = 0.16","a":11,"v":36.13},{"s":2,"k":"k = 0.16","a":31.6,"v":38.2},{"s":2,"k":"k = 0.16","a":72.4,"v":39.86},{"s":2,"k":"k = 0.16","a":204,"v":41.38},{"s":2,"k":"k = 0.16","a":501,"v":42.5},{"s":2,"k":"k = 0.16","a":1000,"v":43.26},
{"s":3,"k":"k = 0.10","a":1,"v":32.5},{"s":3,"k":"k = 0.10","a":3.16,"v":35.2},{"s":3,"k":"k = 0.10","a":10,"v":37.6},{"s":3,"k":"k = 0.10","a":31.6,"v":40.6},{"s":3,"k":"k = 0.10","a":100,"v":43.1},{"s":3,"k":"k = 0.10","a":316,"v":45.2},{"s":3,"k":"k = 0.10","a":1000,"v":47.0},
{"s":3,"k":"k = 0.16","a":1,"v":32.6},{"s":3,"k":"k = 0.16","a":3.16,"v":35.25},{"s":3,"k":"k = 0.16","a":10,"v":37.6},{"s":3,"k":"k = 0.16","a":31.6,"v":40.5},{"s":3,"k":"k = 0.16","a":100,"v":42.5},{"s":3,"k":"k = 0.16","a":316,"v":44.1},{"s":3,"k":"k = 0.16","a":1000,"v":45.3},
{"s":4,"k":"k = 0.10","a":1,"v":30.5},{"s":4,"k":"k = 0.10","a":3.16,"v":33.6},{"s":4,"k":"k = 0.10","a":10,"v":35.8},{"s":4,"k":"k = 0.10","a":31.6,"v":37.9},{"s":4,"k":"k = 0.10","a":100,"v":39.7},{"s":4,"k":"k = 0.10","a":316,"v":41.5},{"s":4,"k":"k = 0.10","a":1000,"v":43.2},
{"s":4,"k":"k = 0.16","a":1,"v":30.6},{"s":4,"k":"k = 0.16","a":3.16,"v":33.65},{"s":4,"k":"k = 0.16","a":10,"v":35.8},{"s":4,"k":"k = 0.16","a":31.6,"v":37.7},{"s":4,"k":"k = 0.16","a":100,"v":39.2},{"s":4,"k":"k = 0.16","a":316,"v":40.6},{"s":4,"k":"k = 0.16","a":1000,"v":41.8},
{"s":5,"k":"k = 0.10","a":2.07,"v":31.76},{"s":5,"k":"k = 0.10","a":6.61,"v":36.4},{"s":5,"k":"k = 0.10","a":12,"v":38.3},{"s":5,"k":"k = 0.10","a":22.4,"v":39.85},{"s":5,"k":"k = 0.10","a":75.9,"v":42.2},{"s":5,"k":"k = 0.10","a":138,"v":43.55},{"s":5,"k":"k = 0.10","a":251,"v":44.9},{"s":5,"k":"k = 0.10","a":468,"v":46.2},{"s":5,"k":"k = 0.10","a":1000,"v":47.67},
{"s":5,"k":"k = 0.16","a":2.07,"v":31.9},{"s":5,"k":"k = 0.16","a":6.61,"v":36.15},{"s":5,"k":"k = 0.16","a":12,"v":37.93},{"s":5,"k":"k = 0.16","a":22.4,"v":39.44},{"s":5,"k":"k = 0.16","a":40.7,"v":40.8},{"s":5,"k":"k = 0.16","a":95.5,"v":42.18},{"s":5,"k":"k = 0.16","a":251,"v":43.55},{"s":5,"k":"k = 0.16","a":525,"v":44.65},{"s":5,"k":"k = 0.16","a":1000,"v":45.53},
{"s":6,"k":"k = 0.10","a":2.04,"v":31.6},{"s":6,"k":"k = 0.10","a":4.47,"v":33.6},{"s":6,"k":"k = 0.10","a":10,"v":35.3},{"s":6,"k":"k = 0.10","a":33.1,"v":37.35},{"s":6,"k":"k = 0.10","a":100,"v":39.0},{"s":6,"k":"k = 0.10","a":295,"v":40.5},{"s":6,"k":"k = 0.10","a":1000,"v":42.0},
{"s":6,"k":"k = 0.16","a":2.04,"v":31.73},{"s":6,"k":"k = 0.16","a":4.47,"v":33.7},{"s":6,"k":"k = 0.16","a":10,"v":35.43},{"s":6,"k":"k = 0.16","a":33.1,"v":37.08},{"s":6,"k":"k = 0.16","a":100,"v":38.3},{"s":6,"k":"k = 0.16","a":295,"v":39.33},{"s":6,"k":"k = 0.16","a":1000,"v":40.64},
{"s":7,"k":"k = 0.10","a":1.02,"v":30.66},{"s":7,"k":"k = 0.10","a":3.16,"v":33.2},{"s":7,"k":"k = 0.10","a":11,"v":35.46},{"s":7,"k":"k = 0.10","a":31.6,"v":37.4},{"s":7,"k":"k = 0.10","a":70.8,"v":38.6},{"s":7,"k":"k = 0.10","a":257,"v":40.26},{"s":7,"k":"k = 0.10","a":1000,"v":42.26},
{"s":7,"k":"k = 0.16","a":1.02,"v":30.7},{"s":7,"k":"k = 0.16","a":3.16,"v":33.2},{"s":7,"k":"k = 0.16","a":11,"v":35.46},{"s":7,"k":"k = 0.16","a":31.6,"v":37.3},{"s":7,"k":"k = 0.16","a":70.8,"v":38.48},{"s":7,"k":"k = 0.16","a":158,"v":39.16},{"s":7,"k":"k = 0.16","a":275,"v":39.85},{"s":7,"k":"k = 0.16","a":562,"v":40.5},{"s":7,"k":"k = 0.16","a":1000,"v":40.95},
{"s":8,"k":"k = 0.10","a":1,"v":30.8},{"s":8,"k":"k = 0.10","a":3.16,"v":33.25},{"s":8,"k":"k = 0.10","a":10,"v":35.6},{"s":8,"k":"k = 0.10","a":31.6,"v":38.2},{"s":8,"k":"k = 0.10","a":100,"v":40.6},{"s":8,"k":"k = 0.10","a":316,"v":42.6},{"s":8,"k":"k = 0.10","a":1000,"v":44.3},
{"s":8,"k":"k = 0.16","a":1,"v":30.85},{"s":8,"k":"k = 0.16","a":3.16,"v":33.3},{"s":8,"k":"k = 0.16","a":10,"v":35.6},{"s":8,"k":"k = 0.16","a":31.6,"v":38.0},{"s":8,"k":"k = 0.16","a":100,"v":40.0},{"s":8,"k":"k = 0.16","a":316,"v":41.6},{"s":8,"k":"k = 0.16","a":1000,"v":42.9},
{"s":9,"k":"k = 0.10","a":3.98,"v":30.3},{"s":9,"k":"k = 0.10","a":10.5,"v":31.95},{"s":9,"k":"k = 0.10","a":27.5,"v":33.1},{"s":9,"k":"k = 0.10","a":107,"v":34.5},{"s":9,"k":"k = 0.10","a":316,"v":35.6},{"s":9,"k":"k = 0.10","a":1000,"v":36.6},
{"s":9,"k":"k = 0.16","a":3.98,"v":30.5},{"s":9,"k":"k = 0.16","a":10.5,"v":32.0},{"s":9,"k":"k = 0.16","a":27.5,"v":33.0},{"s":9,"k":"k = 0.16","a":107,"v":33.95},{"s":9,"k":"k = 0.16","a":316,"v":34.8},{"s":9,"k":"k = 0.16","a":794,"v":35.55},{"s":9,"k":"k = 0.16","a":1000,"v":35.65},
{"s":10,"k":"k = 0.10","a":7.4,"v":30.36},{"s":10,"k":"k = 0.10","a":22.4,"v":32.7},{"s":10,"k":"k = 0.10","a":107,"v":34.6},{"s":10,"k":"k = 0.10","a":316,"v":35.5},{"s":10,"k":"k = 0.10","a":1000,"v":36.26},
{"s":10,"k":"k = 0.16","a":7.4,"v":30.44},{"s":10,"k":"k = 0.16","a":22.4,"v":32.28},{"s":10,"k":"k = 0.16","a":107,"v":33.85},{"s":10,"k":"k = 0.16","a":316,"v":34.6},{"s":10,"k":"k = 0.16","a":1000,"v":35.3}
]
},
"vconcat": [
 {"spacing": -11, "vconcat": [
  {"data": {"name": "st"}, "transform": [{"filter": "datum.s <= 5"}],
   "facet": {"column": {"field": "s", "type": "ordinal", "header": null}},
   "spacing": 9.3,
   "spec": {"width": 208, "height": 33, "view": {"fill": "#d9d9d9", "stroke": "#333333"},
     "mark": {"type": "text", "fontSize": 16.5, "color": "#1a1a1a", "font": "Liberation Sans"},
     "encoding": {"text": {"field": "name", "type": "nominal"}}}},
  {"data": {"name": "d"}, "transform": [{"filter": "datum.s <= 5"}],
   "facet": {"column": {"field": "s", "type": "ordinal", "header": null}},
   "spacing": 9.3,
   "spec": {"width": 208, "height": 243,
     "encoding": {
       "x": {"field": "a", "type": "quantitative", "scale": {"type": "log", "domain": [0.7079, 1412.5], "nice": false},
         "axis": {"values": [0.8,0.9,1,2,3,4,5,6,7,8,9,10,20,30,40,50,60,70,80,90,100,200,300,400,500,600,700,800,900,1000], "labels": false, "ticks": false, "title": null,
           "gridWidth": {"condition": {"test": "datum.value==1||datum.value==10||datum.value==100||datum.value==1000", "value": 1.2}, "value": 0.7}}},
       "y": {"field": "v", "type": "quantitative", "scale": {"domain": [30, 50], "nice": false, "zero": false},
         "axis": {"values": [30,32.5,35,37.5,40,42.5,45,47.5,50], "labelExpr": "datum.value % 5 == 0 ? datum.label : ''", "labelOverlap": false,
           "tickOpacity": {"condition": {"test": "datum.value % 5 == 0", "value": 1}, "value": 0},
           "gridWidth": {"condition": {"test": "datum.value % 5 == 0", "value": 1.2}, "value": 0.7},
           "title": null}}
     },
     "layer": [
       {"transform": [{"filter": "!datum.k"}], "mark": {"type": "point", "filled": true, "size": 44, "fill": "#000000", "fillOpacity": 0.35, "stroke": "#000000", "strokeOpacity": 0.5, "strokeWidth": 0.8, "clip": true}},
       {"transform": [{"filter": "datum.k == 'k = 0.16'"}], "mark": {"type": "line", "color": "#ff0000", "strokeWidth": 2.2, "interpolate": "monotone", "clip": true}, "encoding": {}},
       {"transform": [{"filter": "datum.k == 'k = 0.10'"}], "mark": {"type": "line", "color": "#0000ff", "opacity": 0.6, "strokeWidth": 2.2, "interpolate": "monotone", "clip": true}, "encoding": {}}
     ]}}
 ]},
 {"spacing": -11, "vconcat": [
  {"data": {"name": "st"}, "transform": [{"filter": "datum.s > 5"}],
   "facet": {"column": {"field": "s", "type": "ordinal", "header": null}},
   "spacing": 9.3,
   "spec": {"width": 208, "height": 34, "view": {"fill": "#d9d9d9", "stroke": "#333333"},
     "mark": {"type": "text", "fontSize": 16.5, "color": "#1a1a1a", "font": "Liberation Sans"},
     "encoding": {"text": {"field": "name", "type": "nominal"}}}},
  {"data": {"name": "d"}, "transform": [{"filter": "datum.s > 5"}],
   "facet": {"column": {"field": "s", "type": "ordinal", "header": {"labels": false, "title": "ARI (years)", "titleOrient": "bottom", "titleFontSize": 22, "titleFontWeight": "normal", "titleColor": "#000000", "titleFont": "Liberation Sans", "titlePadding": -2}}},
   "spacing": 9.3,
   "spec": {"width": 208, "height": 243,
     "encoding": {
       "x": {"field": "a", "type": "quantitative", "scale": {"type": "log", "domain": [0.7079, 1412.5], "nice": false},
         "axis": {"values": [0.8,0.9,1,2,3,4,5,6,7,8,9,10,20,30,40,50,60,70,80,90,100,200,300,400,500,600,700,800,900,1000],
           "labelExpr": "datum.value==1 ? '1' : datum.value==10 ? '10' : datum.value==100 ? '100' : datum.value==1000 ? '1K' : ''",
           "labelOverlap": false, "labelFlush": false, "title": null,
           "tickOpacity": {"condition": {"test": "datum.value==1||datum.value==10||datum.value==100||datum.value==1000", "value": 1}, "value": 0},
           "gridWidth": {"condition": {"test": "datum.value==1||datum.value==10||datum.value==100||datum.value==1000", "value": 1.2}, "value": 0.7}}},
       "y": {"field": "v", "type": "quantitative", "scale": {"domain": [30, 50], "nice": false, "zero": false},
         "axis": {"values": [30,32.5,35,37.5,40,42.5,45,47.5,50], "labelExpr": "datum.value % 5 == 0 ? datum.label : ''", "labelOverlap": false,
           "tickOpacity": {"condition": {"test": "datum.value % 5 == 0", "value": 1}, "value": 0},
           "gridWidth": {"condition": {"test": "datum.value % 5 == 0", "value": 1.2}, "value": 0.7},
           "title": null}}
     },
     "layer": [
       {"transform": [{"filter": "!datum.k"}], "mark": {"type": "point", "filled": true, "size": 44, "fill": "#000000", "fillOpacity": 0.35, "stroke": "#000000", "strokeOpacity": 0.5, "strokeWidth": 0.8, "clip": true}},
       {"transform": [{"filter": "datum.k == 'k = 0.16'"}], "mark": {"type": "line", "strokeWidth": 2.2, "interpolate": "monotone", "clip": true},
        "encoding": {"color": {"field": "k", "type": "nominal", "scale": {"domain": ["k = 0.10", "k = 0.16"], "range": ["#0000ff", "#ff0000"]},
          "legend": {"title": null, "orient": "none", "direction": "horizontal", "legendX": 433, "legendY": 659, "symbolType": "stroke", "symbolSize": 720, "symbolStrokeWidth": 2.5, "symbolOpacity": 1, "labelFontSize": 17.5, "labelColor": "#000000", "labelFont": "Liberation Sans", "columnPadding": 10, "labelOffset": 16, "padding": 0}}}},
       {"transform": [{"filter": "datum.k == 'k = 0.10'"}], "mark": {"type": "line", "opacity": 0.6, "strokeWidth": 2.2, "interpolate": "monotone", "clip": true},
        "encoding": {"color": {"field": "k", "type": "nominal", "scale": {"domain": ["k = 0.10", "k = 0.16"], "range": ["#0000ff", "#ff0000"]},
          "legend": {"title": null, "orient": "none", "direction": "horizontal", "legendX": 433, "legendY": 659, "symbolType": "stroke", "symbolSize": 720, "symbolStrokeWidth": 2.5, "symbolOpacity": 1, "labelFontSize": 17.5, "labelColor": "#000000", "labelFont": "Liberation Sans", "columnPadding": 10, "labelOffset": 16, "padding": 0}}}}
     ]}}
 ]}
]
}
